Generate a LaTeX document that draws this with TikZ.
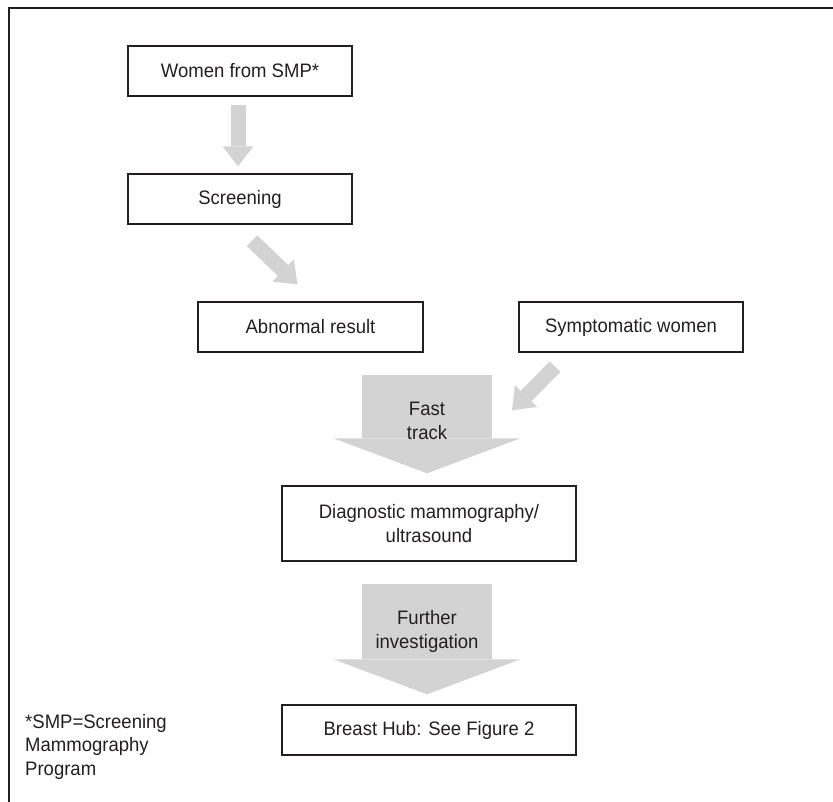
\documentclass[tikz,border=0pt]{standalone}
\usepackage{fontspec}
\setmainfont{Liberation Sans}[FakeStretch=0.95]
\usetikzlibrary{arrows.meta}
\definecolor{txt}{HTML}{231F20}
\definecolor{arrowgray}{RGB}{211,211,211}
\begin{document}
\begin{tikzpicture}[x=1pt,y=-1pt,
  box/.style={draw=txt, line width=1.4pt, text=txt, minimum width=224pt,
    minimum height=50pt, inner sep=0pt, align=center,
    font=\fontsize{19.5}{24.5}\selectfont},
  thinarrow/.style={draw=arrowgray, line width=15pt,
    -{Triangle[width=31pt 0 0,length=20pt 0 0,line width=0pt,fill=arrowgray]}},
  bigarrow/.style={draw=arrowgray, line width=130pt,
    -{Triangle[width=187pt 0 0,length=35pt 0 0,line width=0pt,fill=arrowgray]}},
  lbl/.style={text=txt, align=center, inner sep=0pt,
    font=\fontsize{19.5}{24}\selectfont},
  note/.style={text=txt, align=left, inner sep=0pt, anchor=north west,
    font=\fontsize{19.5}{23.5}\selectfont},
  frame/.style={draw=txt, line width=1.4pt}]
\useasboundingbox (0,0) rectangle (833,802);
\draw[frame] (9,802) -- (9,8) -- (833,8);

\node[box] (women) at (240,71) {Women from SMP*};
\node[box] (screen) at (240,199) {Screening};
\node[box, minimum width=225pt] (abn) at (310.5,327) {Abnormal result};
\node[box] (symp) at (631,327) {Symptomatic women};
\node[box, minimum width=294pt, minimum height=75pt] (diag) at (429,523.5) {Diagnostic mammography/\\ultrasound};
\node[box, minimum width=294pt] (hub) at (429,730) {Breast Hub: See Figure 2};

% connectors
\draw[thinarrow] ([xshift=-2pt,yshift=-8pt]women.south) -- ([xshift=-2pt,yshift=7pt]screen.north);
\draw[thinarrow] ([xshift=12pt,yshift=-16pt]screen.south) -- ([xshift=-13pt,yshift=17pt]abn.north);
\coordinate (ftstart) at ([xshift=-2pt,yshift=110pt]diag.north);
\draw[bigarrow] (ftstart) -- ([xshift=-2pt,yshift=12pt]diag.north);
\draw[thinarrow] ([xshift=-76pt,yshift=-14pt]symp.south) -- ([xshift=85pt,yshift=-35pt]ftstart);
\draw[bigarrow] ([xshift=-2pt,yshift=-22pt]diag.south) -- ([xshift=-2pt,yshift=10pt]hub.north);

\node[lbl] (ft) at (427,420.5) {Fast\\track};
\node[lbl] (fi) at (427,631.5) {Further\\investigation};

\node[note] (fn) at (25,714) {*SMP=Screening\\Mammography\\Program};
\end{tikzpicture}
\end{document}
